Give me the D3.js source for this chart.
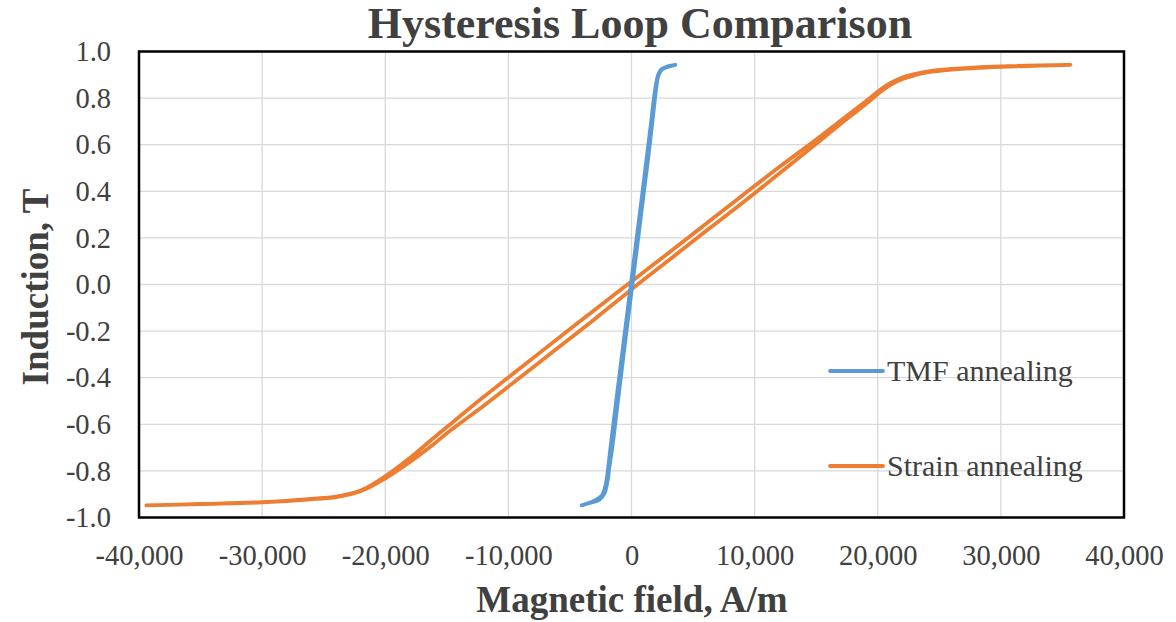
<!DOCTYPE html>
<html>
<head>
<meta charset="utf-8">
<script src="https://cdn.jsdelivr.net/npm/d3@7"></script>
<style>
  body { margin: 0; background: #fff; }
  svg { display: block; font-family: "Liberation Serif", "DejaVu Serif", serif; }
</style>
</head>
<body>
<section></section>
<script>
// Axis ticks
const xTicks = [-40000, -30000, -20000, -10000, 0, 10000, 20000, 30000, 40000];
const xTickLabels = ["-40,000", "-30,000", "-20,000", "-10,000", "0", "10,000", "20,000", "30,000", "40,000"];
const yTicks = [-1.0, -0.8, -0.6, -0.4, -0.2, 0.0, 0.2, 0.4, 0.6, 0.8, 1.0];
const yTickLabels = ["-1.0", "-0.8", "-0.6", "-0.4", "-0.2", "0.0", "0.2", "0.4", "0.6", "0.8", "1.0"];

const seriesNames = ["TMF annealing", "Strain annealing"];

// TMF annealing: H (A/m), B (T) - ascending then descending branch
const tmfUpH = [-4050, -3400, -2600, -2200, -1950, -1800, -1560, -1000, -500, 0, 500, 1000, 1370, 1700, 1910, 2050, 2180, 2450, 3000, 3550];
const tmfUpB = [-0.948, -0.938, -0.924, -0.897, -0.845, -0.785, -0.70, -0.455, -0.24, -0.03, 0.18, 0.395, 0.55, 0.70, 0.80, 0.86, 0.895, 0.922, 0.935, 0.943];
const tmfDownH = [3550, 3000, 2450, 2180, 2000, 1800, 1600, 1250, 900, 400, -100, -600, -1100, -1500, -1750, -1900, -2100, -2400, -3000, -3600, -4050];
const tmfDownB = [0.943, 0.937, 0.925, 0.902, 0.862, 0.79, 0.70, 0.55, 0.40, 0.19, -0.02, -0.23, -0.44, -0.61, -0.72, -0.79, -0.86, -0.905, -0.928, -0.94, -0.948];

// Strain annealing: H (A/m), B (T)
const strainUpH = [-39400, -35000, -30000, -26000, -24000, -22500, -21500, -20200, -19200, -18000, -16100, -15000, -12000, -9000, -6000, -3000, 0, 3000, 6000, 9000, 12000, 15000, 17000, 18500, 19500, 20200, 21000, 22000, 23000, 24000, 26000, 30000, 35650];
const strainUpB = [-0.948, -0.942, -0.935, -0.922, -0.912, -0.896, -0.876, -0.838, -0.805, -0.762, -0.687, -0.638, -0.52, -0.397, -0.273, -0.149, -0.021, 0.103, 0.227, 0.35, 0.476, 0.604, 0.69, 0.752, 0.795, 0.826, 0.856, 0.882, 0.898, 0.910, 0.922, 0.934, 0.943];
const strainDownH = [35650, 30000, 26000, 24000, 23000, 22000, 21000, 20200, 19500, 18500, 17000, 15000, 12000, 9000, 6000, 3000, 0, -3000, -6000, -9000, -12000, -15000, -16100, -18000, -19200, -20200, -21500, -22500, -24000, -26000, -30000, -35000, -39400];
const strainDownB = [0.943, 0.936, 0.925, 0.914, 0.903, 0.888, 0.864, 0.836, 0.806, 0.765, 0.704, 0.622, 0.504, 0.382, 0.259, 0.135, 0.013, -0.109, -0.233, -0.357, -0.482, -0.612, -0.66, -0.745, -0.793, -0.830, -0.872, -0.893, -0.910, -0.920, -0.934, -0.942, -0.948];

const colors = ["#5b9bd5", "#ed7d31"];
const textColor = "#404040";

const width = 1176, height = 622;
const plot = { left: 139, right: 1124, top: 51.5, bottom: 517.5 };

const zip = (hs, bs) => hs.map((h, i) => ({ h: h, b: bs[i] }));
const tmf = zip(tmfUpH, tmfUpB).concat(zip(tmfDownH, tmfDownB));
const strain = zip(strainUpH, strainUpB).concat(zip(strainDownH, strainDownB));

const svg = d3.select("section")
  .append("svg")
  .attr("width", width)
  .attr("height", height);

const x = d3.scaleLinear().domain([-40000, 40000]).range([plot.left, plot.right]);
const y = d3.scaleLinear().domain([-1, 1]).range([plot.bottom, plot.top]);

//Gridlines
svg.append("g")
  .attr("class", "grid")
  .selectAll("line.v")
  .data(xTicks)
  .enter()
  .append("line")
  .attr("x1", d => x(d)).attr("x2", d => x(d))
  .attr("y1", plot.top).attr("y2", plot.bottom)
  .attr("stroke", "#d9d9d9")
  .attr("stroke-width", 1.3);

svg.append("g")
  .attr("class", "grid")
  .selectAll("line.h")
  .data(yTicks)
  .enter()
  .append("line")
  .attr("x1", plot.left).attr("x2", plot.right)
  .attr("y1", d => y(d)).attr("y2", d => y(d))
  .attr("stroke", "#d9d9d9")
  .attr("stroke-width", 1.3);

//Axes (labels only, Excel style)
const xAxis = d3.axisBottom(x)
  .tickValues(xTicks)
  .tickSize(0)
  .tickPadding(0)
  .tickFormat((d, i) => xTickLabels[i]);

svg.append("g")
  .attr("id", "x-axis")
  .attr("transform", "translate(0," + plot.bottom + ")")
  .call(xAxis)
  .call(g => g.select(".domain").remove())
  .selectAll("text")
  .attr("y", 47)
  .attr("dy", 0)
  .attr("fill", textColor)
  .style("font-family", "Liberation Serif")
  .style("font-size", "28.5px");

const yAxis = d3.axisLeft(y)
  .tickValues(yTicks)
  .tickSize(0)
  .tickPadding(28)
  .tickFormat((d, i) => yTickLabels[i]);

svg.append("g")
  .attr("id", "y-axis")
  .attr("transform", "translate(" + plot.left + ",0)")
  .call(yAxis)
  .call(g => g.select(".domain").remove())
  .selectAll("text")
  .attr("fill", textColor)
  .style("font-family", "Liberation Serif")
  .style("font-size", "28.5px");

//Series
const line = d3.line()
  .x(d => x(d.h))
  .y(d => y(d.b))
  .curve(d3.curveCatmullRom);

svg.append("path")
  .datum(strain)
  .attr("d", line)
  .attr("fill", "none")
  .attr("stroke", colors[1])
  .attr("stroke-width", 3.8)
  .attr("stroke-linejoin", "round")
  .attr("stroke-linecap", "round");

svg.append("path")
  .datum(tmf)
  .attr("d", line)
  .attr("fill", "none")
  .attr("stroke", colors[0])
  .attr("stroke-width", 3.8)
  .attr("stroke-linejoin", "round")
  .attr("stroke-linecap", "round");

//Plot border
svg.append("rect")
  .attr("x", plot.left)
  .attr("y", plot.top)
  .attr("width", plot.right - plot.left)
  .attr("height", plot.bottom - plot.top)
  .attr("fill", "none")
  .attr("stroke", "#000")
  .attr("stroke-width", 2.5);

//Legend
const legendY = [371, 466];
const legend = svg.append("g").attr("class", "legend");
const items = legend.selectAll("g")
  .data(seriesNames)
  .enter()
  .append("g")
  .attr("transform", (d, i) => "translate(830," + legendY[i] + ")");

items.append("line")
  .attr("x1", 0).attr("x2", 53)
  .attr("y1", 0).attr("y2", 0)
  .attr("stroke", (d, i) => colors[i])
  .attr("stroke-width", 3.8)
  .attr("stroke-linecap", "round");

items.append("text")
  .attr("x", 57)
  .attr("y", 0)
  .attr("dy", "0.33em")
  .attr("fill", textColor)
  .style("font-size", "30px")
  .text(d => d);

//Titles
svg.append("text")
  .attr("id", "title")
  .attr("x", 640)
  .attr("y", 38)
  .attr("text-anchor", "middle")
  .attr("fill", textColor)
  .style("font-size", "44px")
  .style("font-weight", "bold")
  .text("Hysteresis Loop Comparison");

svg.append("text")
  .attr("x", 632)
  .attr("y", 612)
  .attr("text-anchor", "middle")
  .attr("fill", textColor)
  .style("font-size", "37px")
  .style("font-weight", "bold")
  .text("Magnetic field, A/m");

svg.append("text")
  .attr("transform", "translate(48,287) rotate(-90)")
  .attr("text-anchor", "middle")
  .attr("fill", textColor)
  .style("font-size", "37px")
  .style("font-weight", "bold")
  .text("Induction, T");
</script>
</body>
</html>
